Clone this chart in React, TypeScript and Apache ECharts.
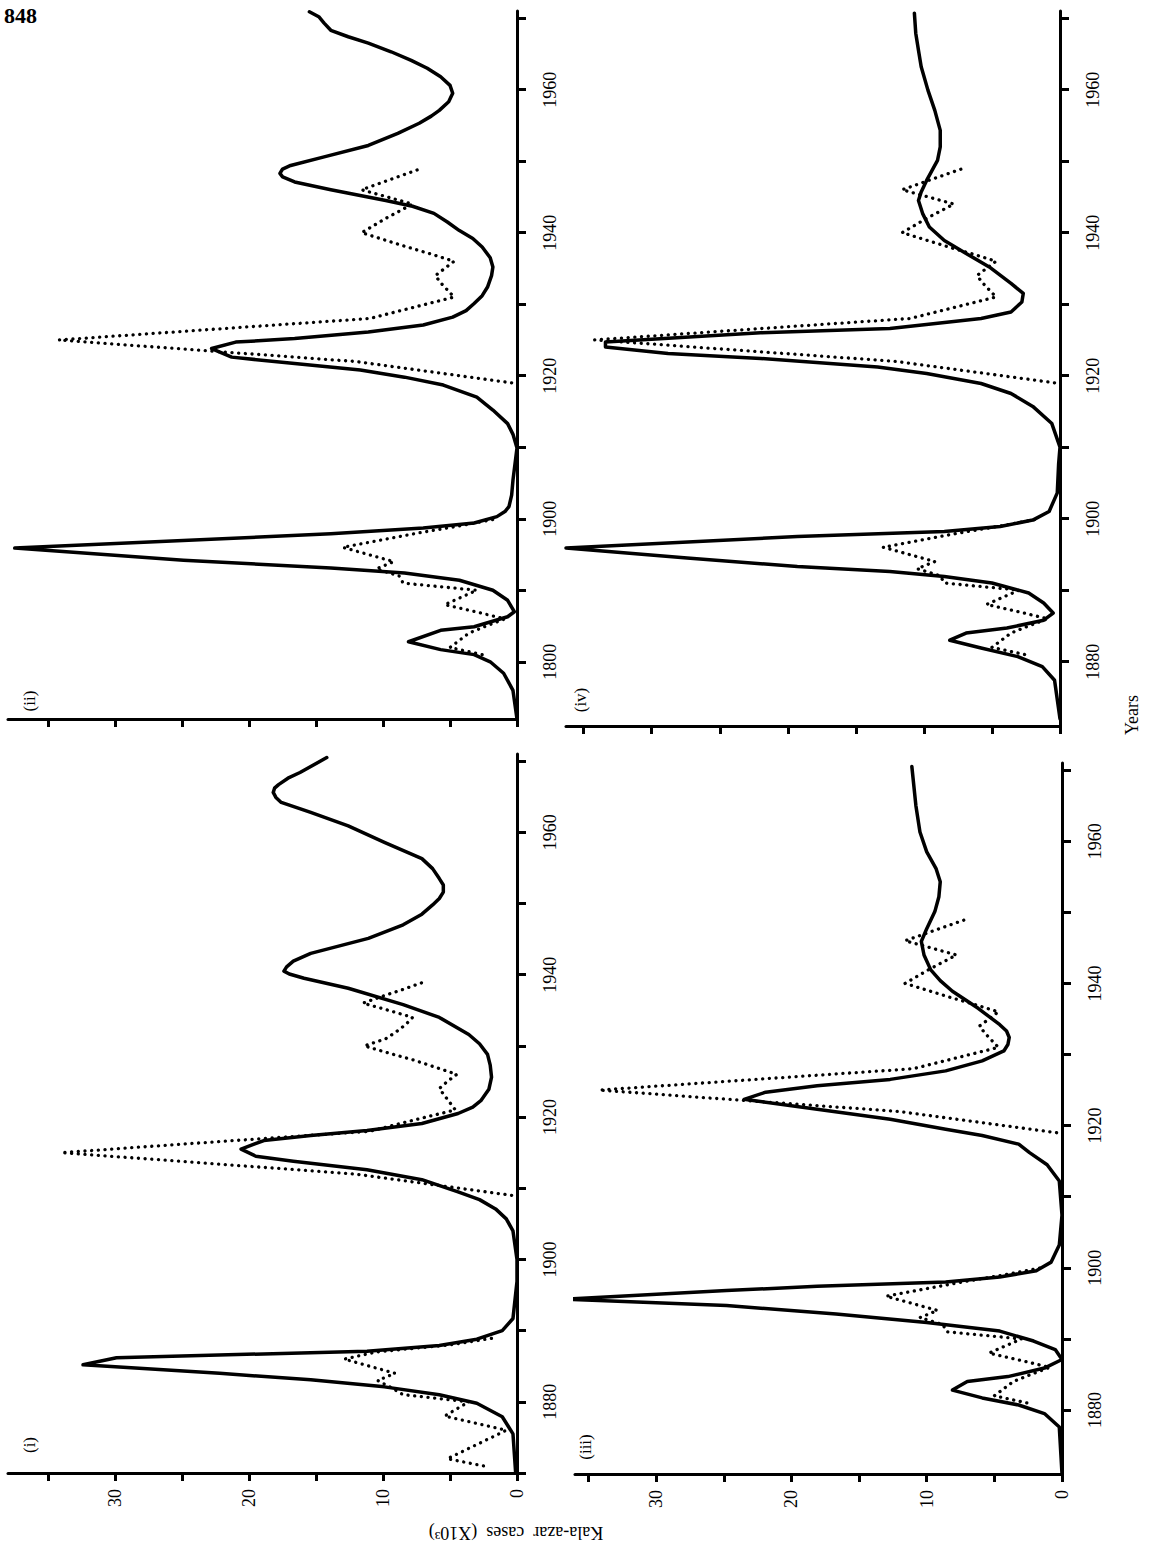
import React, { useEffect, useRef } from "react";
import * as echarts from "echarts";

// ---------- axis ticks / labels ----------
const yearTicks = [1870, 1880, 1890, 1900, 1910, 1920, 1930, 1940, 1950, 1960, 1970];
const yearLabels = [1880, 1900, 1920, 1940, 1960];
const caseTicks = [0, 5, 10, 15, 20, 25, 30, 35];
const caseLabels = [0, 10, 20, 30];

// ---------- data: [year, cases (x10^3)] ----------
// model fits (solid)
const fitI: [number, number][] = [
  [1870, 0.1], [1875.5, 0.3], [1877.9, 1.1], [1879.8, 3.0], [1881, 5.8], [1882.1, 9.9], [1883.1, 15.4],
  [1884, 22.2], [1885.2, 32.4], [1886.2, 29.9], [1887.1, 11.2], [1887.9, 5.8], [1888.8, 3.0], [1890, 1.1],
  [1891.7, 0.3], [1896.9, 0], [1900, 0], [1904, 0.3], [1905.7, 0.8], [1907.1, 1.6], [1908.4, 2.8], [1909.5, 4.4],
  [1911.2, 7.1], [1912.6, 11.2], [1913.8, 16.7], [1914.5, 19.5], [1915.5, 20.6], [1916.7, 18.9], [1917.4, 15.4],
  [1918.1, 11.2], [1919.1, 7.1], [1920.5, 4.4], [1921.4, 3.3], [1922.3, 2.7], [1923.9, 2.1], [1925.6, 1.9],
  [1927.3, 2.0], [1928.8, 2.2], [1930.3, 2.8], [1931.6, 3.6], [1934, 5.8], [1935.8, 8.5], [1938.1, 12.6],
  [1939.5, 15.9], [1940.1, 17.0], [1940.5, 17.4], [1941.1, 17.2], [1941.9, 16.7], [1943, 15.4], [1945.1, 11.1],
  [1947, 8.5], [1948.5, 7.1], [1949.8, 6.3], [1950.7, 5.8], [1951.6, 5.5], [1952.6, 5.5], [1953.5, 5.8],
  [1954.9, 6.3], [1956.3, 7.1], [1958.6, 9.9], [1960.9, 12.6], [1962.8, 15.4], [1964.2, 17.6], [1964.9, 18.0],
  [1965.6, 18.2], [1966.2, 18.1], [1966.7, 17.8], [1967.6, 17.1], [1968.4, 16.2], [1970.5, 14.2],
];
const fitII: [number, number][] = [
  [1872, 0], [1876, 0.3], [1878.4, 1.0], [1880, 2.0], [1881, 3.2], [1881.7, 5.7], [1882.8, 8.1],
  [1884.4, 5.7], [1884.9, 3.2], [1886.3, 0.7], [1887, 0.2], [1888.6, 0.7], [1890, 1.8], [1891.4, 4.3],
  [1892.4, 8.4], [1893.1, 13.9], [1894.2, 24.9], [1895.9, 37.5], [1897.9, 13.9], [1898.7, 7.0],
  [1899.4, 3.2], [1900.3, 1.5], [1901, 0.9], [1901.7, 0.6], [1903.3, 0.4], [1905.4, 0.3], [1909.9, 0],
  [1911.8, 0.3], [1913.3, 0.7], [1915.2, 1.8], [1917, 3.0], [1918.7, 5.5], [1919.8, 8.4], [1920.8, 11.7],
  [1921.7, 16.6], [1922.6, 21.3], [1923.8, 22.8], [1924.7, 21.0], [1925.2, 16.6], [1926.1, 11.1], [1927.1, 7.0],
  [1928.2, 4.8], [1929.1, 3.8], [1930.1, 3.2], [1931.2, 2.6], [1932.4, 2.2], [1934, 1.9], [1935.2, 1.8],
  [1936.5, 2.0], [1938, 2.6], [1939.2, 3.3], [1940.3, 4.3], [1941.5, 5.2], [1942.7, 6.2], [1943.7, 7.8],
  [1944.5, 9.8], [1946, 13.9], [1947.1, 16.6], [1947.8, 17.5], [1948.3, 17.7], [1948.9, 17.5], [1949.4, 16.9],
  [1950.6, 14.4], [1952.2, 11.1], [1953.9, 8.9], [1955.3, 7.3], [1956.3, 6.4], [1957.1, 5.8], [1958.3, 5.1],
  [1959.5, 4.8], [1960.6, 5.0], [1961.8, 5.7], [1963, 6.7], [1964.1, 7.9], [1965.3, 9.4], [1966.5, 11.1],
  [1967.4, 12.6], [1968.3, 13.9], [1969.3, 14.4], [1970.2, 14.8], [1970.9, 15.5],
];
const fitIII: [number, number][] = [
  [1871, 0], [1877.6, 0.2], [1879.5, 1.3], [1880.7, 3.2], [1881.7, 5.9], [1882.8, 8.1], [1884, 7.0],
  [1884.7, 4.0], [1885.9, 1.3], [1887.1, 0], [1888.5, 0.5], [1889.7, 2.1], [1891.1, 4.6], [1892.3, 10.0],
  [1893.5, 16.7], [1894.7, 24.8], [1895.6, 36.8], [1896.8, 24.8], [1897.4, 18.1], [1898, 8.6], [1898.7, 4.6],
  [1899.6, 1.9], [1900.8, 0.8], [1903.2, 0.2], [1907.4, 0], [1912.2, 0.2], [1914.5, 1.1], [1916.2, 2.4],
  [1917.4, 3.2], [1918.6, 5.9], [1919.5, 8.6], [1920.9, 12.7], [1922.3, 18.1], [1923.5, 22.7], [1923.7, 23.5],
  [1924.7, 21.9], [1925.6, 18.1], [1926.5, 12.7], [1927.7, 8.6], [1929.1, 5.9], [1930.5, 4.3], [1931.4, 4.0],
  [1932.4, 3.9], [1933.3, 4.1], [1934.2, 4.6], [1936.5, 6.2], [1938.9, 8.1], [1940.4, 9.0], [1941.9, 9.7],
  [1944, 10.2], [1945.9, 10.4], [1947.7, 10.0], [1950.1, 9.4], [1952.2, 9.1], [1954.3, 9.0], [1956.1, 9.3],
  [1958.5, 10.0], [1961.3, 10.5], [1965, 10.8], [1970.5, 11.1],
];
const fitIV: [number, number][] = [
  [1872, 0], [1877.4, 0.4], [1879.3, 1.3], [1880.7, 3.1], [1881.9, 5.8], [1883, 8.1], [1884, 6.9],
  [1884.7, 3.9], [1885.8, 1.2], [1886.8, 0.5], [1888.2, 1.2], [1889.6, 2.3], [1891, 5.0], [1891.9, 8.5],
  [1892.6, 12.5], [1893.3, 19.3], [1894.5, 27.4], [1895.9, 36.3], [1897.5, 19.3], [1898.2, 8.5], [1898.9, 4.4],
  [1899.8, 2.0], [1901, 0.8], [1903.6, 0.2], [1907.7, 0.1], [1910, 0], [1913.3, 0.6], [1915.7, 2.0],
  [1917.5, 3.6], [1918.9, 5.8], [1920.3, 9.8], [1921.2, 13.4], [1922.4, 22.0], [1923.1, 28.8], [1924, 33.4],
  [1924.7, 33.4], [1926.0, 22.0], [1926.6, 12.5], [1928.0, 5.8], [1928.9, 3.6], [1930.3, 2.8], [1931.5, 2.7],
  [1932.9, 3.6], [1935.2, 5.2], [1937.1, 6.9], [1938.9, 8.5], [1940.8, 9.6], [1942.7, 10.1], [1944.5, 10.4],
  [1945.7, 10.2], [1947.3, 9.8], [1948.7, 9.4], [1950.1, 9.0], [1952, 8.8], [1954.3, 8.8], [1957.1, 9.2],
  [1959.9, 9.7], [1963.2, 10.2], [1965.5, 10.4], [1967.9, 10.6], [1970.7, 10.7],
];

// recorded cases (dotted) -- panels (ii), (iii), (iv)
const observedEarly: [number, number][] = [
  [1881, 2.6], [1882, 5.0], [1883, 4.3], [1884, 3.6], [1885, 2.3], [1886, 0.9], [1887, 3.1], [1888, 5.4],
  [1889, 4.2], [1890, 3.0], [1891, 8.5], [1892, 8.8], [1893, 10.5], [1894, 9.2], [1895, 11.1], [1896, 13.0],
  [1897, 10.2], [1898, 7.4], [1899, 4.3], [1900, 1.5],
];
const observedLate: [number, number][] = [
  [1919, 0.4], [1920, 4.3], [1921, 8.2], [1922, 12.1], [1923, 19.5], [1924, 26.9], [1925, 34.2], [1926, 26.5],
  [1927, 18.8], [1928, 11.0], [1929, 8.9], [1930, 6.8], [1931, 4.7], [1932, 5.2], [1933, 5.7], [1934, 6.1],
  [1935, 5.4], [1936, 4.7], [1937, 6.4], [1938, 8.2], [1939, 9.9], [1940, 11.6], [1941, 10.7], [1942, 9.8],
  [1943, 8.8], [1944, 7.8], [1945, 9.7], [1946, 11.6], [1947, 10.1], [1948, 8.6], [1949, 7.1],
];
// recorded cases as drawn in panel (i)
const observedEarlyI: [number, number][] = [
  [1871, 2.5], [1872, 5.2], [1873, 4.1], [1874, 3.0], [1875, 1.9], [1876, 0.8], [1877, 3.1], [1878, 5.4],
  [1879, 4.5], [1880, 3.6], [1881, 8.5], [1882, 9.4], [1883, 10.4], [1884, 9.1], [1885, 11.0], [1886, 12.9],
  [1887, 10.5], [1888, 5.0], [1889, 1.6],
];
const observedLateI: [number, number][] = [
  [1909, 0.4], [1910, 4.3], [1911, 8.2], [1912, 12.1], [1913, 19.4], [1914, 26.7], [1915, 34.0], [1916, 26.5],
  [1917, 18.8], [1918, 11.0], [1919, 8.9], [1920, 6.8], [1921, 4.6], [1922, 5.0], [1923, 5.4], [1924, 5.8],
  [1925, 5.2], [1926, 4.5], [1927, 6.1], [1928, 7.7], [1929, 9.6], [1930, 11.4], [1931, 9.8], [1932, 9.0],
  [1933, 8.3], [1934, 7.8], [1935, 9.6], [1936, 11.5], [1937, 10.0], [1938, 8.4], [1939, 6.9],
];

// ---------- layout ----------
const FONT = "'Liberation Serif', 'DejaVu Serif', serif";

type Panel = {
  name: string;
  fit: [number, number][];
  observed: [number, number][][];
  grid: { left: number; top: number; width: number; height: number };
  caseMax: number;
  yearMin: number;
  yearMax: number;
  showCaseLabels: boolean;
  firstYearLabel: string;
  tag: { x: number; y: number };
};

const panels: Panel[] = [
  {
    name: "(ii)", fit: fitII, observed: [observedEarly, observedLate],
    grid: { left: 8, top: 11, width: 509, height: 708 }, caseMax: 38, yearMin: 1872, yearMax: 1971,
    showCaseLabels: false, firstYearLabel: "1800", tag: { x: 29, y: 701 },
  },
  {
    name: "(iv)", fit: fitIV, observed: [observedEarly, observedLate],
    grid: { left: 566, top: 11, width: 494, height: 715 }, caseMax: 36.3, yearMin: 1871, yearMax: 1971,
    showCaseLabels: false, firstYearLabel: "1880", tag: { x: 580, y: 700 },
  },
  {
    name: "(i)", fit: fitI, observed: [observedEarlyI, observedLateI],
    grid: { left: 8, top: 754, width: 509, height: 719 }, caseMax: 38, yearMin: 1870, yearMax: 1971,
    showCaseLabels: true, firstYearLabel: "1880", tag: { x: 29, y: 1445 },
  },
  {
    name: "(iii)", fit: fitIII, observed: [observedEarly, observedLate],
    grid: { left: 575, top: 763, width: 487, height: 711 }, caseMax: 36, yearMin: 1871, yearMax: 1971,
    showCaseLabels: true, firstYearLabel: "1880", tag: { x: 585, y: 1447 },
  },
];

function buildOption() {
  const grid: any[] = [];
  const xAxis: any[] = [];
  const yAxis: any[] = [];
  const series: any[] = [];
  const graphic: any[] = [];

  panels.forEach((p, i) => {
    grid.push({ ...p.grid, containLabel: false });
    xAxis.push({
      type: "value",
      gridIndex: i,
      inverse: true,
      min: 0,
      max: p.caseMax,
      position: "bottom",
      axisLine: { show: true, onZero: false, lineStyle: { color: "#000", width: 3 } },
      axisTick: { show: true, customValues: caseTicks, length: 8, lineStyle: { color: "#000", width: 3 } },
      axisLabel: {
        show: p.showCaseLabels,
        customValues: caseLabels,
        rotate: 90,
        margin: 16,
        color: "#000",
        fontSize: 18,
        fontFamily: FONT,
      },
      splitLine: { show: false },
    });
    yAxis.push({
      type: "value",
      gridIndex: i,
      min: p.yearMin,
      max: p.yearMax,
      position: "right",
      axisLine: { show: true, onZero: false, lineStyle: { color: "#000", width: 3 } },
      axisTick: {
        show: true,
        customValues: yearTicks.filter((t) => t >= p.yearMin && t <= p.yearMax),
        length: 9,
        lineStyle: { color: "#000", width: 3 },
      },
      axisLabel: {
        show: true,
        customValues: yearLabels,
        rotate: 90,
        margin: 24,
        color: "#000",
        fontSize: 18,
        fontFamily: FONT,
        formatter: (v: number) => (v === 1880 ? p.firstYearLabel : String(v)),
      },
      splitLine: { show: false },
    });
    series.push({
      type: "line",
      name: `fit ${p.name}`,
      xAxisIndex: i,
      yAxisIndex: i,
      data: p.fit.map(([yr, v]) => [v, yr]),
      showSymbol: false,
      smooth: false,
      clip: false,
      lineStyle: { color: "#000", width: 3.5, join: "round", cap: "round" },
    });
    p.observed.forEach((seg, k) => {
      series.push({
        type: "line",
        name: `observed ${p.name} ${k}`,
        xAxisIndex: i,
        yAxisIndex: i,
        data: seg.map(([yr, v]) => [v, yr]),
        showSymbol: false,
        clip: false,
        lineStyle: { color: "#000", width: 3.3, type: [0.1, 6.6], cap: "round" },
      });
    });
    graphic.push({
      type: "text",
      x: p.tag.x,
      y: p.tag.y,
      rotation: Math.PI / 2,
      style: {
        text: p.name,
        font: `17px ${FONT}`,
        fill: "#000",
        align: "center",
        verticalAlign: "middle",
        textAlign: "center",
        textVerticalAlign: "middle",
      },
    });
  });

  graphic.push(
    {
      type: "text",
      x: 4,
      y: 4,
      style: { text: "848", font: `bold 22px ${FONT}`, fill: "#000", align: "left", verticalAlign: "top", textAlign: "left", textVerticalAlign: "top" },
    },
    {
      type: "text",
      x: 1132,
      y: 715,
      rotation: Math.PI / 2,
      style: { text: "Years", font: `18px ${FONT}`, fill: "#000", align: "center", verticalAlign: "middle", textAlign: "center", textVerticalAlign: "middle" },
    },
    {
      type: "text",
      x: 516,
      y: 1533,
      rotation: Math.PI,
      style: {
        text: "Kala-azar  cases  (X10³)",
        font: `18px ${FONT}`,
        fill: "#000",
        align: "center",
        verticalAlign: "middle",
        textAlign: "center",
        textVerticalAlign: "middle",
      },
    }
  );

  return {
    animation: false,
    backgroundColor: "#fff",
    grid,
    xAxis,
    yAxis,
    series,
    graphic,
  };
}

export default function App() {
  const ref = useRef<HTMLDivElement>(null);
  useEffect(() => {
    if (!ref.current) return;
    const chart = echarts.init(ref.current, undefined, { renderer: "svg" });
    chart.setOption(buildOption() as any);
    return () => chart.dispose();
  }, []);
  return (
    <div
      ref={ref}
      style={{ position: "absolute", left: 0, top: 0, width: 1154, height: 1544, background: "#fff" }}
    />
  );
}
